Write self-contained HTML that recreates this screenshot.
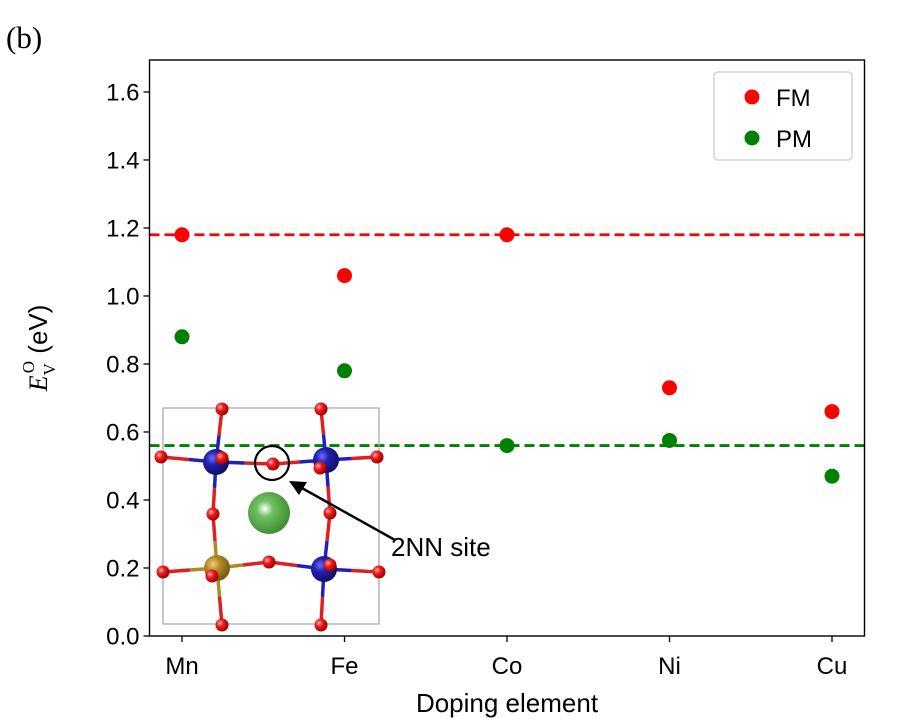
<!DOCTYPE html>
<html><head><meta charset="utf-8"><style>
body{margin:0;background:#fff}
svg{display:block;font-family:"Liberation Sans",sans-serif}
</style></head><body>
<svg width="923" height="727" viewBox="0 0 923 727">
<defs>
<radialGradient id="gO" cx="35%" cy="35%" r="65%"><stop offset="0" stop-color="#ffb0b0"/><stop offset="0.4" stop-color="#f02020"/><stop offset="1" stop-color="#a00000"/></radialGradient>
<radialGradient id="gB" cx="35%" cy="35%" r="65%"><stop offset="0" stop-color="#7070ff"/><stop offset="0.4" stop-color="#2020b0"/><stop offset="1" stop-color="#10106a"/></radialGradient>
<radialGradient id="gG" cx="40%" cy="40%" r="65%"><stop offset="0" stop-color="#ffffff"/><stop offset="0.3" stop-color="#70c060"/><stop offset="1" stop-color="#3a8a30"/></radialGradient>
<radialGradient id="gY" cx="35%" cy="35%" r="65%"><stop offset="0" stop-color="#f0d080"/><stop offset="0.4" stop-color="#b88a28"/><stop offset="1" stop-color="#7a5a10"/></radialGradient>
</defs>
<text x="6" y="48" font-family="Liberation Serif,serif" font-size="31">(b)</text>
<g id="axes"></g>
</svg>
<script>
const categories=["Mn","Fe","Co","Ni","Cu"];
const fmValues=[1.18,1.06,1.18,0.73,0.66];
const pmValues=[0.88,0.78,0.56,0.575,0.47];
const fmRef=[1.18];
const pmRef=[0.56];
const yTicks=[0.0,0.2,0.4,0.6,0.8,1.0,1.2,1.4,1.6];
const NS="http://www.w3.org/2000/svg";
const L=149.5,R=864.5,T=60,B=636;
const xs=i=>L+(i+0.2)/4.4*(R-L);
const ys=v=>B-v/1.694*(B-T);
const g=document.getElementById('axes');
function mk(t,a,p){const e=document.createElementNS(NS,t);for(const k in a)e.setAttribute(k,a[k]);(p||g).appendChild(e);return e;}
let l=mk('line',{x1:L,x2:R,y1:ys(fmRef[0]),y2:ys(fmRef[0]),stroke:'#ff0000','stroke-width':2.8,'stroke-dasharray':'10,5'});


l=mk('line',{x1:L,x2:R,y1:ys(pmRef[0]),y2:ys(pmRef[0]),stroke:'#008000','stroke-width':2.8,'stroke-dasharray':'10,5'});


fmValues.forEach((v,i)=>{const c=mk('circle',{cx:xs(i),cy:ys(v),r:7.5,fill:'#ff0000'});

});
pmValues.forEach((v,i)=>{const c=mk('circle',{cx:xs(i),cy:ys(v),r:7.5,fill:'#008000'});

});
const ins=mk('g',{});


mk('rect',{x:163,y:408,width:216,height:216,fill:'none',stroke:'#aaa','stroke-width':1.3},ins);
function bond(x1,y1,x2,y2,c1){const mx=(x1+x2)/2,my=(y1+y2)/2;mk('line',{x1,y1,x2:mx,y2:my,stroke:c1,'stroke-width':3.5},ins);mk('line',{x1:mx,y1:my,x2,y2,stroke:'#e02020','stroke-width':3.5},ins);}
const Bs=[[216,462,'#2020c0'],[326,460,'#2020c0'],[217,568,'#b08a20'],[324,569,'#2020c0']];
const bondsList=[[0,222,409],[0,161,457],[0,273,464],[0,213,514],[1,321,409],[1,377,457],[1,273,464],[1,330,513],[2,213,514],[2,163,572],[2,269,562],[2,222,625],[3,330,513],[3,269,562],[3,379,572],[3,321,625]];
bondsList.forEach(b=>{const s=Bs[b[0]];bond(s[0],s[1],b[1],b[2],s[2]);});
const Os=[[222,409],[321,409],[161,457],[377,457],[273,464],[213,514],[330,513],[269,562],[163,572],[379,572],[222,625],[321,625]];
Os.forEach(o=>mk('circle',{cx:o[0],cy:o[1],r:6.5,fill:'url(#gO)'},ins));
Bs.forEach(b=>mk('circle',{cx:b[0],cy:b[1],r:13,fill:b[2]=='#b08a20'?'url(#gY)':'url(#gB)'},ins));
[[222,458],[320,468],[212,576],[330,565]].forEach(o=>mk('circle',{cx:o[0],cy:o[1],r:6.5,fill:'url(#gO)'},ins));
mk('circle',{cx:269,cy:513,r:21,fill:'url(#gG)'},ins);
const ring=mk('circle',{cx:272,cy:463,r:17,fill:'none',stroke:'#000','stroke-width':2.2});


mk('line',{x1:395,y1:540,x2:300,y2:487,stroke:'#000','stroke-width':2.5});
mk('polygon',{points:'289,481 307,482 299,495',fill:'#000'});
const ann=mk('text',{x:391,y:556,'font-size':26});ann.textContent='2NN site';


mk('rect',{x:L,y:T,width:R-L,height:B-T,fill:'none',stroke:'#000','stroke-width':1.4});
yTicks.forEach(v=>{mk('line',{x1:L-6,x2:L,y1:ys(v),y2:ys(v),stroke:'#000','stroke-width':1.3});
const t=mk('text',{x:L-10,y:ys(v)+8.5,'text-anchor':'end','font-size':24});t.textContent=v.toFixed(1);

});
categories.forEach((c,i)=>{mk('line',{x1:xs(i),x2:xs(i),y1:B,y2:B+6,stroke:'#000','stroke-width':1.3});
const t=mk('text',{x:xs(i),y:B+38,'text-anchor':'middle','font-size':24});t.textContent=c;

});
const xt=mk('text',{x:507,y:712,'text-anchor':'middle','font-size':26});xt.textContent='Doping element';


const yt=mk('text',{transform:'translate(47,348) rotate(-90)','text-anchor':'middle','font-size':26});
yt.innerHTML='<tspan font-style="italic" font-family="Liberation Serif,serif">E</tspan><tspan font-size="17" dy="8" font-family="Liberation Serif,serif">V</tspan><tspan font-size="17" dy="-21" dx="-10" font-family="Liberation Serif,serif">O</tspan><tspan dy="13"> (eV)</tspan>';


const lg=mk('g',{});


mk('rect',{x:714,y:72,width:138,height:88,rx:4,fill:'#fff',stroke:'#ccc','stroke-width':1.3},lg);
mk('circle',{cx:752,cy:97,r:7.5,fill:'#ff0000'},lg);
mk('circle',{cx:752,cy:138,r:7.5,fill:'#008000'},lg);
let t1=mk('text',{x:776,y:106,'font-size':24},lg);t1.textContent='FM';


let t2=mk('text',{x:776,y:147,'font-size':24},lg);t2.textContent='PM';


</script>
</body></html>
